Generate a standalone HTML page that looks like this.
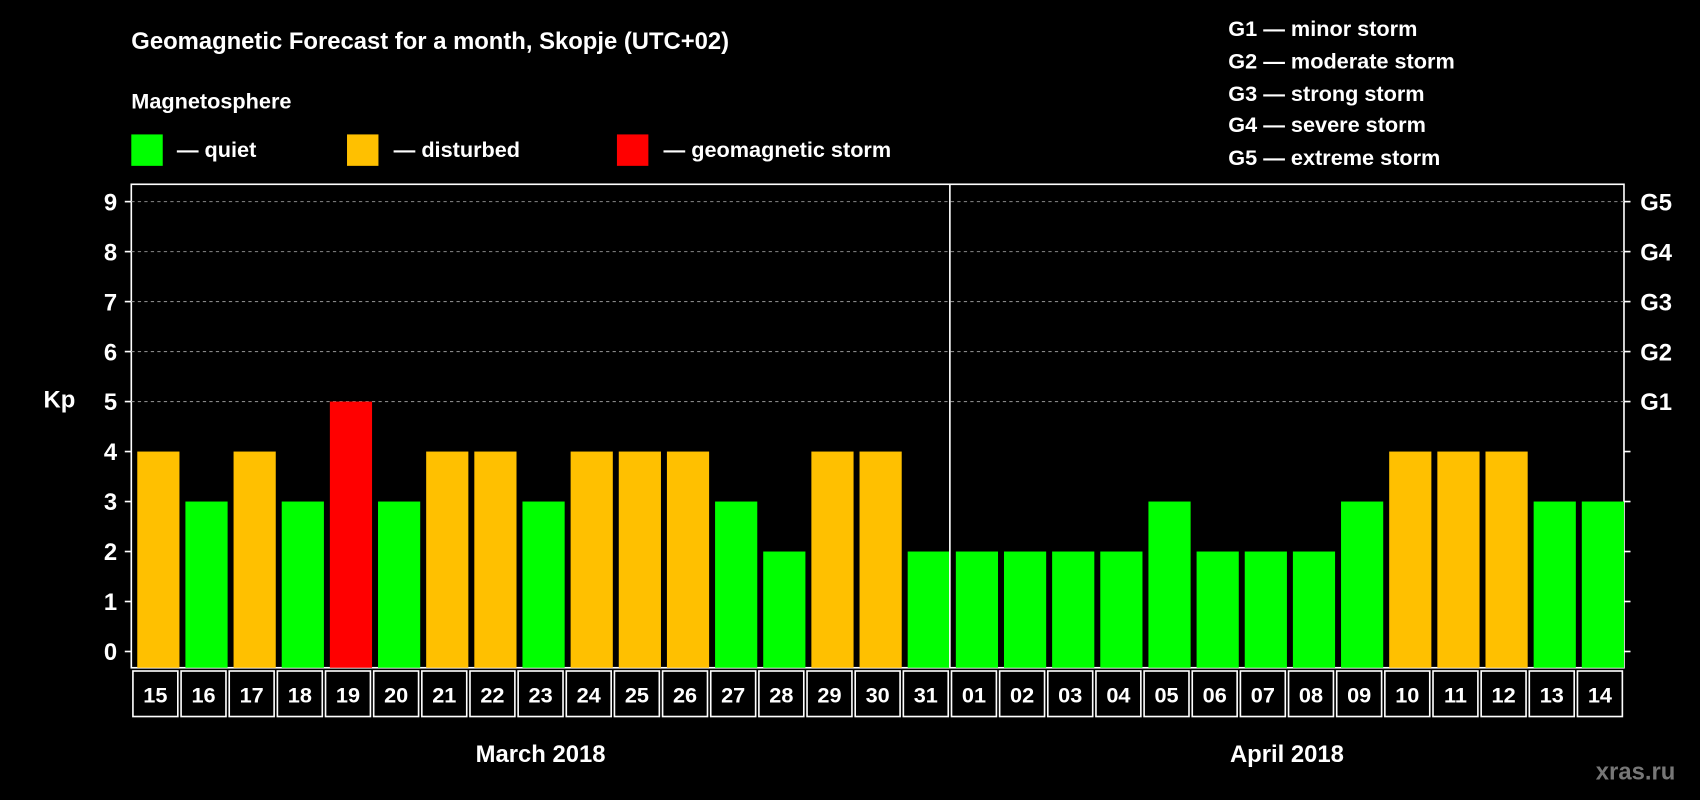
<!DOCTYPE html>
<html><head><meta charset="utf-8"><style>
html,body{margin:0;padding:0;background:#000;}
svg{display:block;font-family:"Liberation Sans",Arial,sans-serif;font-weight:bold;}
</style></head><body>
<svg id="chart" width="1700" height="800" viewBox="0 0 1568 738" xmlns="http://www.w3.org/2000/svg">
<rect width="1568" height="738" fill="#000"/>
<text x="121" y="45" fill="#fff" font-size="22">Geomagnetic Forecast for a month, Skopje (UTC+02)</text>
<text x="121" y="100" fill="#fff" font-size="20">Magnetosphere</text>
<g><rect x="121" y="124" width="29" height="29" fill="#00ff00"/><text x="163" y="145" fill="#fff" font-size="20">— quiet</text></g>
<g><rect x="320" y="124" width="29" height="29" fill="#ffc000"/><text x="363" y="145" fill="#fff" font-size="20">— disturbed</text></g>
<g><rect x="569" y="124" width="29" height="29" fill="#ff0000"/><text x="612" y="145" fill="#fff" font-size="20">— geomagnetic storm</text></g>
<g fill="#fff" font-size="20">
<text x="1133" y="33">G1 — minor storm</text>
<text x="1133" y="63">G2 — moderate storm</text>
<text x="1133" y="93">G3 — strong storm</text>
<text x="1133" y="122">G4 — severe storm</text>
<text x="1133" y="152">G5 — extreme storm</text>
</g>
<text x="40" y="376" fill="#fff" font-size="22">Kp</text>
<text x="1472" y="719" fill="#777" font-size="22">xras.ru</text>
<g id="plot"></g>
</svg>
<script>
const days = ["15","16","17","18","19","20","21","22","23","24","25","26","27","28","29","30","31","01","02","03","04","05","06","07","08","09","10","11","12","13","14"];
const kpValues = [4,3,4,3,5,3,4,4,3,4,4,4,3,2,4,4,2,2,2,2,2,3,2,2,2,3,4,4,4,3,3];
const yTicks = [0,1,2,3,4,5,6,7,8,9];
const gLabels = ["","","","","","G1","G2","G3","G4","G5"];
const months = [{name:"March 2018",start:0,end:17},{name:"April 2018",start:17,end:31}];

const NS="http://www.w3.org/2000/svg";
const g=document.getElementById('plot');
const L=121,R=1498,T=170,B=616;
const step=(R-L)/days.length;
const y=v=>601-v*(601-186)/9;
const x=i=>L+i*step;
function mk(tag,attrs,parent){const e=document.createElementNS(NS,tag);for(const k in attrs)e.setAttribute(k,attrs[k]);(parent||g).appendChild(e);return e;}
const frame=mk('rect',{x:L,y:T,width:R-L,height:B-T,fill:'none',stroke:'#fff','stroke-width':1.5});


yTicks.forEach((t,i)=>{
  if(t>=5){const gl=mk('line',{x1:L,x2:R,y1:y(t),y2:y(t),stroke:'#888','stroke-dasharray':'3,3','stroke-width':1});
    
    }
  mk('line',{x1:L-6,x2:L,y1:y(t),y2:y(t),stroke:'#fff','stroke-width':1.5});
  mk('line',{x1:R,x2:R+6,y1:y(t),y2:y(t),stroke:'#fff','stroke-width':1.5});
  const tl=mk('text',{x:L-13,y:y(t)+8,fill:'#fff','font-size':22,'text-anchor':'end'});tl.textContent=t;
  
  
  if(gLabels[i]){const gt=mk('text',{x:R+15,y:y(t)+8,fill:'#fff','font-size':22});gt.textContent=gLabels[i];
    
    }
});
kpValues.forEach((v,i)=>{
  const col=v>=5?'#ff0000':(v>=4?'#ffc000':'#00ff00');
  const b=mk('rect',{x:x(i)+5.5,y:y(v),width:step-5.5,height:B-y(v),fill:col});
  
  
  const c=mk('rect',{x:x(i)+1.5,y:B+3,width:step-3,height:42,fill:'none',stroke:'#fff','stroke-width':1.5});
  
  
  const t=mk('text',{x:x(i)+step/2,y:B+32,fill:'#fff','font-size':20,'text-anchor':'middle'});t.textContent=days[i];
  
  
});
const dv=mk('line',{x1:x(17),x2:x(17),y1:T,y2:B,stroke:'#fff','stroke-width':1.5});


months.forEach(m=>{const t=mk('text',{x:(x(m.start)+x(m.end))/2,y:703,fill:'#fff','font-size':22,'text-anchor':'middle'});t.textContent=m.name;
  
  });
</script>
</body></html>
